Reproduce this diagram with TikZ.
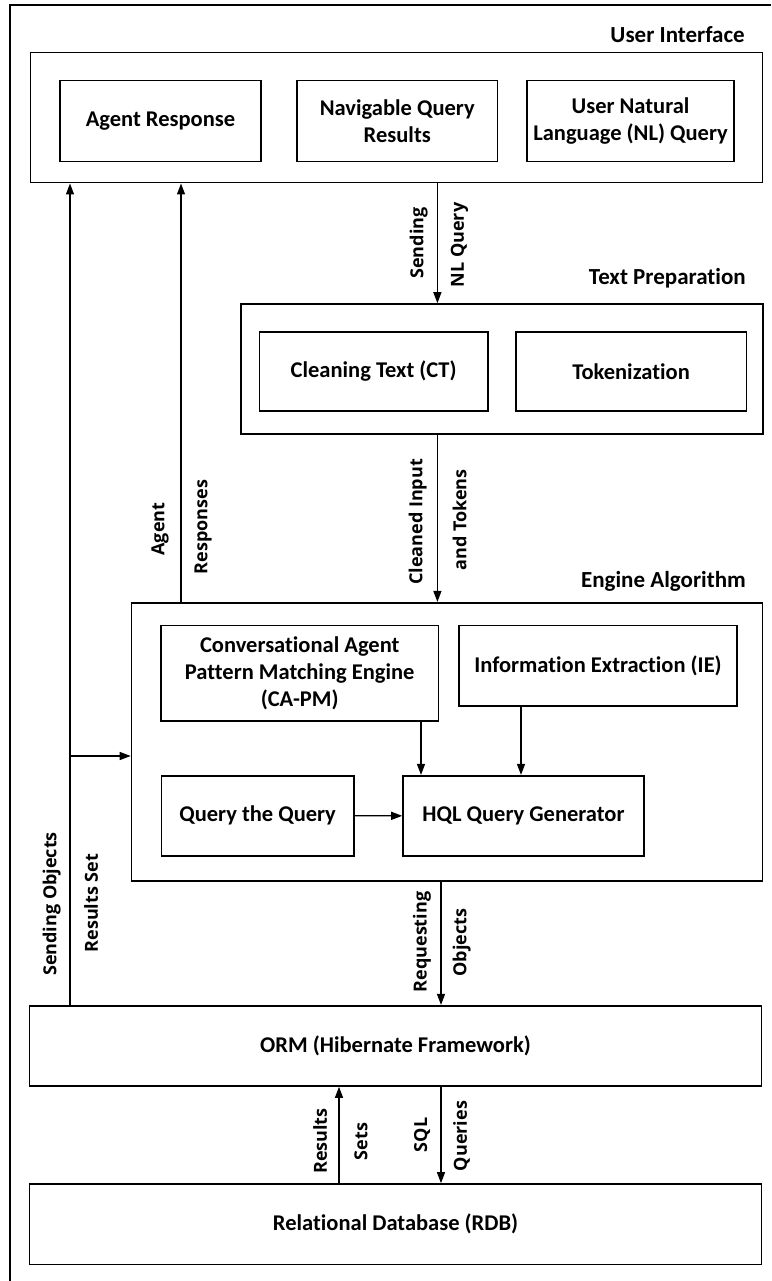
\documentclass[tikz,border=0pt]{standalone}
\usepackage{fontspec}
\setmainfont{Carlito}[Ligatures={CommonOff,ContextualOff}]
\newfontfamily\labfont{Open Sans}
\usetikzlibrary{arrows.meta}
\begin{document}
\begin{tikzpicture}[x=1pt,y=-1pt,
  box/.style={draw, line width=1.6pt, inner sep=2pt, align=center, font=\fontsize{22.5}{27}\selectfont\bfseries},
  ttl/.style={anchor=east, inner sep=0pt, font=\fontsize{23}{27}\selectfont\bfseries},
  lab/.style={rotate=90, inner sep=0pt, font=\labfont\fontsize{18}{21}\selectfont\bfseries},
  arr/.style={line width=1.3pt, -{Triangle[length=11pt,width=8pt]}},
  ln/.style={line width=1.3pt}]
\useasboundingbox (0,0) rectangle (771,1281);
\fill[white] (0,0) rectangle (771,1281);
\draw[line width=1.2pt] (10,1281) -- (10,5) -- (771,5);

% titles
\node[ttl] (tui) at (745,35) {User Interface};
\node[ttl] (ttp) at (746,278) {Text Preparation};
\node[ttl] (tea) at (746,581) {Engine Algorithm};

% boxes
\node[box, minimum width=732, minimum height=130] (UI) at (396.5,117.7) {};
\node[box, minimum width=201, minimum height=81] (AR) at (160.5,121.2) {Agent Response};
\node[box, minimum width=200.5, minimum height=81] (NQ) at (397.25,121.2) {Navigable Query\\Results};
\node[box, minimum width=207, minimum height=81] (UN) at (630.5,121.2) {User Natural\\Language (NL) Query};

\node[box, minimum width=522, minimum height=130] (TP) at (502,369) {};
\node[box, minimum width=228.1, minimum height=79.3] (CT) at (373.65,371.35) {Cleaning Text (CT)};
\node[box, minimum width=230.5, minimum height=79.3] (TK) at (631.05,371.35) {Tokenization};

\node[box, minimum width=631.1, minimum height=278] (EA) at (447.05,741.7) {};
\node[box, minimum width=277.4, minimum height=95.7] (CA) at (299.7,673.15) {Conversational Agent\\Pattern Matching Engine\\(CA-PM)};
\node[box, minimum width=278, minimum height=80.7] (IE) at (598,665.65) {Information Extraction (IE)};
\node[box, minimum width=192.1, minimum height=80] (QQ) at (257.65,815.7) {Query the Query};
\node[box, minimum width=241, minimum height=80.3] (HQL) at (523.5,815.85) {HQL Query Generator};

\node[box, minimum width=732.1, minimum height=80.3] (ORM) at (395.55,1045.85) {ORM (Hibernate Framework)};
\node[box, minimum width=732.1, minimum height=80.3] (RDB) at (395.55,1224.15) {Relational Database (RDB)};

% connector x positions
\coordinate (xq) at (437.4,0);
\coordinate (xr) at (441,0);
\coordinate (xs) at (339,0);
\coordinate (xa) at (181,0);
\coordinate (xo) at (70,0);
\coordinate (xca) at (421,0);
\coordinate (xie) at (521,0);
\coordinate (br) at (70,756);

\draw[arr] (UI.south -| xq) -- (TP.north -| xq);
\draw[arr] (TP.south -| xq) -- (EA.north -| xq);
\draw[arr] (EA.south -| xr) -- (ORM.north -| xr);
\draw[arr] (ORM.south -| xr) -- (RDB.north -| xr);
\draw[arr] (RDB.north -| xs) -- (ORM.south -| xs);
\draw[arr] (EA.north -| xa) -- (UI.south -| xa);
\draw[arr] (ORM.north -| xo) -- (UI.south -| xo);
\draw[arr] (br) -- (EA.west |- br);
\draw[arr] (CA.south -| xca) -- (HQL.north -| xca);
\draw[arr] (IE.south -| xie) -- (HQL.north -| xie);
\draw[arr] (QQ.east) -- (HQL.west);

% labels
\node[lab] (l1) at (418.7,243) {Sending};
\node[lab] (l2) at (459.6,245) {NL Query};
\node[lab] (l3) at (160,529) {Agent};
\node[lab] (l4) at (203,527) {Responses};
\node[lab] (l5) at (417.7,522) {Cleaned Input};
\node[lab] (l6) at (459.6,520) {and Tokens};
\node[lab] (l7) at (51.7,904) {Sending Objects};
\node[lab] (l8) at (91,903) {Results Set};
\node[lab] (l9) at (422,942) {Requesting};
\node[lab] (l10) at (461.6,942.5) {Objects};
\node[lab] (l11) at (320,1141) {Results};
\node[lab] (l12) at (361,1141.5) {Sets};
\node[lab] (l13) at (422,1135) {SQL};
\node[lab] (l14) at (461.6,1136) {Queries};
\end{tikzpicture}
\end{document}
